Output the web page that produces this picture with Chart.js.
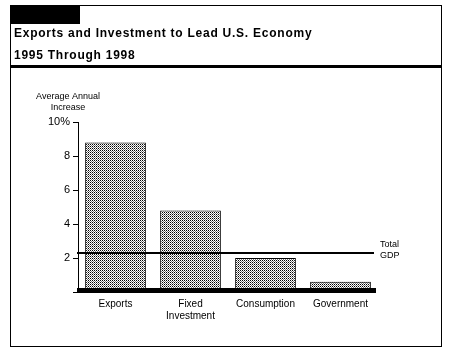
<!DOCTYPE html>
<html>
<head>
<meta charset="utf-8">
<script src="https://cdn.jsdelivr.net/npm/chart.js@4.4.1/dist/chart.umd.min.js"></script>
<style>
  body { margin: 0; background: #fff; }
  #wrap { position: relative; width: 451px; height: 350px; font-family: "Liberation Sans", Arial, sans-serif; }
  #chart { position: absolute; left: 0; top: 0; }
  .frame { position: absolute; left: 10px; top: 5px; width: 430px; height: 340px; border: 1px solid #000; pointer-events: none; }
  .tab { position: absolute; left: 10px; top: 5px; width: 70px; height: 19px; background: #000; }
  .rule { position: absolute; left: 10px; top: 65px; width: 432px; height: 3px; background: #000; }
  .title { position: absolute; left: 14px; top: 22px; font-size: 12px; font-weight: bold; line-height: 22px; letter-spacing: 0.75px; color: #000; }
</style>
</head>
<body>
<div id="wrap">
  <canvas id="chart" width="451" height="350"></canvas>
  <div class="frame"></div>
  <div class="tab"></div>
  <div class="title">Exports and Investment to Lead U.S. Economy<br>1995 Through 1998</div>
  <div class="rule"></div>
</div>
<script>
// values
const categories = ['Exports', ['Fixed', 'Investment'], 'Consumption', 'Government']
const increases = [8.8, 4.8, 2.0, 0.6]
const totalGdp = 2.3
const gdpLabel = ['Total', 'GDP']
const axisTitle = ['Average Annual', 'Increase']
const yTickValues = [0, 2, 4, 6, 8, 10]

Chart.defaults.font.family = '"Liberation Sans", Arial, sans-serif'
Chart.defaults.color = '#000'

// dotted grey fill like the old printout
function dotPattern() {
  var c = document.createElement('canvas')
  c.width = 2
  c.height = 2
  var g = c.getContext('2d')
  g.fillStyle = '#fff'
  g.fillRect(0, 0, 2, 2)
  g.fillStyle = '#000'
  g.fillRect(0, 0, 1, 1)
  g.fillStyle = '#777'
  g.fillRect(1, 1, 1, 1)
  return g.createPattern(c, 'repeat')
}

// baseline, GDP line and the extra labels
const extras = {
  id: 'extras',
  afterDatasetsDraw(chart) {
    var ctx = chart.ctx
    var area = chart.chartArea
    var y = chart.scales.y
    ctx.save()
    // thick base bar
    var y0 = y.getPixelForValue(0)
    ctx.fillStyle = '#000'
    ctx.fillRect(area.left - 1, y0 - 4, area.right - area.left - 1, 5)
    // total GDP line
    var yg = y.getPixelForValue(totalGdp)
    ctx.strokeStyle = '#000'
    ctx.lineWidth = 2
    ctx.beginPath()
    ctx.moveTo(area.left - 1, yg)
    ctx.lineTo(area.right - 4, yg)
    ctx.stroke()
    ctx.font = '9px "Liberation Sans", Arial, sans-serif'
    ctx.textAlign = 'left'
    ctx.textBaseline = 'middle'
    ctx.fillText(gdpLabel[0], area.right + 2, yg - 8)
    ctx.fillText(gdpLabel[1], area.right + 2, yg + 3)
    // y axis title
    ctx.textAlign = 'center'
    ctx.fillText(axisTitle[0], area.left - 10, area.top - 25)
    ctx.fillText(axisTitle[1], area.left - 10, area.top - 14)
    ctx.restore()
  }
}

var ctx = document.getElementById('chart').getContext('2d')
var chart = new Chart(ctx, {
  type: 'bar',
  data: {
    labels: categories,
    datasets: [{
      data: increases,
      backgroundColor: dotPattern(),
      borderColor: '#000',
      borderWidth: 1,
      borderSkipped: false,
      barPercentage: 0.81,
      categoryPercentage: 1
    }]
  },
  options: {
    responsive: false,
    animation: false,
    layout: { padding: { left: 0, right: 73, top: 122, bottom: 0 } },
    plugins: { legend: { display: false }, tooltip: { enabled: false } },
    scales: {
      x: {
        grid: { display: false, drawTicks: false },
        border: { display: false },
        ticks: { padding: 6, font: { size: 10 }, color: '#000', maxRotation: 0, autoSkip: false },
        afterFit(scale) { scale.height = 58 }
      },
      y: {
        min: 0,
        max: 10,
        afterBuildTicks(scale) { scale.ticks = yTickValues.map(v => ({ value: v })) },
        grid: { drawOnChartArea: false, tickLength: 5, tickColor: '#000', lineWidth: 1 },
        border: { display: true, color: '#000', width: 1 },
        ticks: {
          padding: 3,
          font: { size: 11 },
          color: '#000',
          callback: v => v === 0 ? '' : (v === 10 ? '10%' : String(v))
        },
        afterFit(scale) { scale.width = 78 }
      }
    }
  },
  plugins: [extras]
})
</script>
</body>
</html>
